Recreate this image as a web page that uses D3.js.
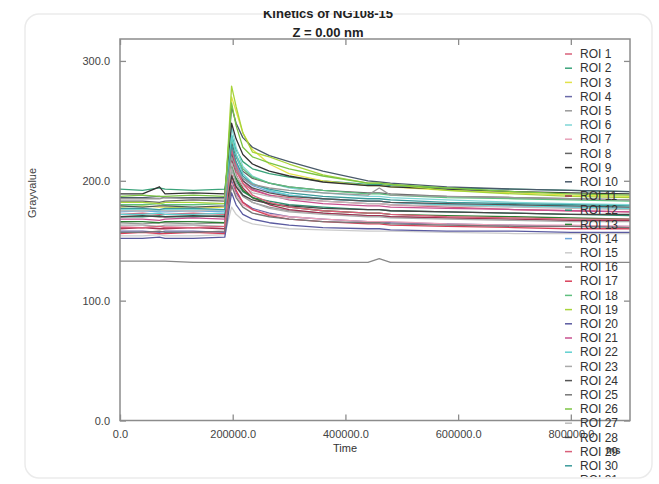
<!DOCTYPE html>
<html>
<head>
<meta charset="utf-8">
<script src="https://cdn.jsdelivr.net/npm/d3@7"></script>
<style>
  body { margin: 0; background: #fff; }
  svg { display: block; font-family: 'Liberation Sans', Arial, sans-serif; }
</style>
</head>
<body>
<div id="chart"></div>
<script>
// sample times (ms)
var times = [0, 40000, 70000, 80000, 130000, 186000, 198000, 206000, 218000, 235000, 265000, 300000, 360000, 440000, 460000, 480000, 580000, 700000, 800000, 905000];

var roiNames = ['ROI 1','ROI 2','ROI 3','ROI 4','ROI 5','ROI 6','ROI 7','ROI 8','ROI 9','ROI 10',
                'ROI 11','ROI 12','ROI 13','ROI 14','ROI 15','ROI 16','ROI 17','ROI 18','ROI 19','ROI 20',
                'ROI 21','ROI 22','ROI 23','ROI 24','ROI 25','ROI 26','ROI 27','ROI 28','ROI 29','ROI 30','ROI 31'];

var roiColors = ['#d9607a','#3aa37a','#e2e24a','#6a6aa8','#999999','#7fd6d6','#e8a0b8','#666666','#333333','#4a5a6a',
                 '#a03050','#2f8f6f','#2e7d32','#6fa8dc','#cccccc','#888888','#d9405a','#5fbf7f','#a8d43a','#5a5aa0',
                 '#c8508f','#60d0d0','#aaaaaa','#555555','#777777','#7cc444','#bbbbbb','#444444','#d9607a','#3a9a9a','#999999'];

// gray values per ROI, one per sample time
var roi1  = [172,173,172,172,173,172,222,208,198,192,188,186,183,181,181,180,178,176,175,174];
var roi2  = [193,192,194,193,192,193,238,226,216,210,206,203,200,197,197,196,194,193,192,191];
var roi3  = [178,179,178,178,177,178,270,258,240,226,214,206,200,196,196,195,192,190,188,187];
var roi4  = [158,158,157,158,158,157,200,190,182,177,173,170,168,166,166,165,164,163,162,162];
var roi5  = [165,164,165,165,164,165,205,195,187,182,178,175,173,171,171,170,169,168,167,167];
var roi6  = [176,176,175,176,176,175,245,228,212,204,198,194,190,187,187,186,184,182,181,180];
var roi7  = [162,161,162,162,161,162,198,188,180,176,172,170,168,166,166,166,164,163,163,162];
var roi8  = [183,183,182,183,184,183,232,220,208,202,198,195,192,190,190,189,187,186,185,184];
var roi9  = [189,189,195,189,190,189,248,235,222,214,208,204,199,196,196,195,193,191,190,189];
var roi10 = [186,186,187,186,186,186,262,248,236,228,221,216,208,200,199,198,195,193,192,191];
var roi11 = [160,161,160,160,161,160,218,205,194,186,180,176,173,171,171,170,169,168,167,167];
var roi12 = [170,170,171,170,170,171,210,200,191,186,183,180,178,176,176,175,174,173,172,171];
var roi13 = [166,166,165,166,166,165,214,202,192,186,181,178,175,173,173,172,171,170,169,168];
var roi14 = [174,175,174,174,175,174,228,214,202,196,191,188,185,183,183,182,180,179,178,177];
var roi15 = [154,154,155,154,154,155,178,172,167,164,162,160,159,158,158,158,157,156,156,156];
var roi16 = [133,133,133,133,132,132,132,132,132,132,132,132,132,132,135,132,132,132,132,132];
var roi17 = [156,157,156,156,157,156,205,192,182,176,171,168,166,164,164,163,162,161,160,160];
var roi18 = [180,180,181,180,180,181,236,222,210,203,198,195,192,189,189,188,186,185,184,183];
var roi19 = [182,182,181,182,182,181,279,262,240,224,220,214,205,198,198,197,192,189,187,186];
var roi20 = [152,152,153,152,152,153,190,180,172,168,165,163,161,160,160,159,158,158,157,157];
var roi21 = [168,168,167,168,169,168,225,212,200,193,188,184,181,179,179,178,177,176,175,174];
var roi22 = [172,172,173,172,172,173,238,222,206,198,192,188,185,183,183,182,180,179,178,177];
var roi23 = [163,163,162,163,163,162,210,198,188,182,177,174,172,170,170,169,168,167,166,166];
var roi24 = [179,178,179,179,178,179,222,210,200,194,190,187,185,183,183,182,181,180,179,178];
var roi25 = [157,157,158,157,157,158,196,186,178,173,170,168,166,165,165,164,163,162,162,161];
var roi26 = [187,188,187,187,188,187,265,246,228,220,215,210,204,198,198,197,194,191,189,188];
var roi27 = [175,175,176,175,175,176,215,204,196,190,187,185,183,181,181,180,179,178,177,176];
var roi28 = [170,171,170,170,171,170,204,195,188,184,181,179,177,176,176,175,174,173,172,172];
var roi29 = [161,161,162,161,161,162,228,212,198,188,182,178,175,173,173,172,170,169,168,168];
var roi30 = [177,177,176,177,177,176,230,216,204,197,193,190,187,185,185,184,182,181,180,179];
var roi31 = [185,185,185,186,185,185,220,210,202,197,194,192,190,188,194,188,187,186,185,184];

var roiValues = [roi1, roi2, roi3, roi4, roi5, roi6, roi7, roi8, roi9, roi10, roi11, roi12, roi13, roi14, roi15, roi16,
                 roi17, roi18, roi19, roi20, roi21, roi22, roi23, roi24, roi25, roi26, roi27, roi28, roi29, roi30, roi31];

var xTicks = [0, 200000, 400000, 600000, 800000];
var yTicks = [0, 100, 200, 300];

(function() {
    var W = 659, H = 484;
    var frame = {left: 120, right: 630, top: 39, bottom: 420.5};

    var svg = d3.select('#chart').append('svg')
                .attr('width', W)
                .attr('height', H);

    // faint card outline
    svg.append('rect')
        .attr('x', 25).attr('y', 14)
        .attr('width', 627).attr('height', 464)
        .attr('rx', 14)
        .style('fill', '#fff')
        .style('stroke', '#ebebeb')
        .style('stroke-width', 1.5);

    var xScale = d3.scaleLinear()
                    .domain([0, 905000])
                    .range([frame.left, frame.right]);
    var yScale = d3.scaleLinear()
                    .domain([0, 318.3])
                    .range([frame.bottom, frame.top]);

    var defs = svg.append('defs');
    defs.append('clipPath').attr('id', 'plot-clip')
        .append('rect')
        .attr('x', frame.left).attr('y', frame.top)
        .attr('width', frame.right - frame.left)
        .attr('height', frame.bottom - frame.top);
    defs.append('clipPath').attr('id', 'title-clip')
        .append('rect')
        .attr('x', 0).attr('y', 11)
        .attr('width', W).attr('height', 40);
    defs.append('clipPath').attr('id', 'legend-clip')
        .append('rect')
        .attr('x', 0).attr('y', 0)
        .attr('width', W).attr('height', 477);

    // traces
    var line = d3.line()
                .x(function(d) { return xScale(d[0]); })
                .y(function(d) { return yScale(d[1]); });
    svg.append('g').attr('clip-path', 'url(#plot-clip)')
        .selectAll('path')
        .data(roiValues)
        .enter()
        .append('path')
        .attr('d', function(vals) {
            return line(vals.map(function(v, i) { return [times[i], v]; }));
        })
        .style('fill', 'none')
        .style('stroke', function(d, i) { return roiColors[i]; })
        .style('stroke-width', 1.3)
        .style('stroke-linejoin', 'round');

    // axes, ticks pointing into the plot
    function styleAxis(g) {
        g.select('.domain').remove();
        g.selectAll('line').style('stroke', '#8c8c8c').style('stroke-width', 1.3);
        g.selectAll('text')
            .style('font-family', "'Liberation Sans', Arial, sans-serif")
            .style('font-size', '11px')
            .style('fill', '#444');
    }
    var fmt = d3.format('.1f');
    svg.append('g')
        .attr('transform', 'translate(' + frame.left + ',0)')
        .call(d3.axisLeft(yScale).tickValues(yTicks).tickSize(-6).tickPadding(10).tickFormat(fmt))
        .call(styleAxis);
    svg.append('g')
        .attr('transform', 'translate(' + frame.right + ',0)')
        .call(d3.axisRight(yScale).tickValues(yTicks).tickSize(-6).tickFormat(''))
        .call(styleAxis);
    svg.append('g')
        .attr('transform', 'translate(0,' + frame.bottom + ')')
        .call(d3.axisBottom(xScale).tickValues(xTicks).tickSize(-6).tickPadding(10).tickFormat(fmt))
        .call(styleAxis);
    svg.append('g')
        .attr('transform', 'translate(0,' + frame.top + ')')
        .call(d3.axisTop(xScale).tickValues(xTicks).tickSize(-6).tickFormat(''))
        .call(styleAxis);

    svg.append('rect')
        .attr('x', frame.left).attr('y', frame.top)
        .attr('width', frame.right - frame.left)
        .attr('height', frame.bottom - frame.top)
        .style('fill', 'none')
        .style('stroke', '#8c8c8c')
        .style('stroke-width', 1.5);

    // titles
    var title = svg.append('g').attr('clip-path', 'url(#title-clip)');
    title.append('text').text('Kinetics of NG108-15')
        .attr('x', 328).attr('y', 18)
        .attr('text-anchor', 'middle')
        .style('font-size', '13px').style('font-weight', 700).style('fill', '#222');
    svg.append('text').text('Z = 0.00 nm')
        .attr('x', 328).attr('y', 37)
        .attr('text-anchor', 'middle')
        .style('font-size', '13px').style('font-weight', 700).style('fill', '#222');

    // axis labels
    svg.append('text').text('Grayvalue')
        .attr('transform', 'translate(36,193) rotate(-90)')
        .attr('text-anchor', 'middle')
        .style('font-size', '11px').style('fill', '#444');
    svg.append('text').text('Time')
        .attr('x', 345).attr('y', 452)
        .attr('text-anchor', 'middle')
        .style('font-size', '11px').style('fill', '#333');

    // legend
    var legend = svg.append('g').attr('clip-path', 'url(#legend-clip)');
    var item = legend.selectAll('g')
        .data(roiNames)
        .enter()
        .append('g')
        .attr('transform', function(d, i) { return 'translate(565,' + (54 + i * 14.2) + ')'; });
    item.append('line')
        .attr('x1', 0).attr('x2', 7)
        .style('stroke', function(d, i) { return roiColors[i]; })
        .style('stroke-width', 1.5);
    item.append('text').text(function(d) { return d; })
        .attr('x', 15).attr('dy', '0.35em')
        .style('font-size', '12px').style('fill', '#333');

    svg.append('text').text('ms')
        .attr('x', 606).attr('y', 454)
        .style('font-size', '10px').style('font-weight', 700).style('fill', '#444');
}());
</script>
</body>
</html>
